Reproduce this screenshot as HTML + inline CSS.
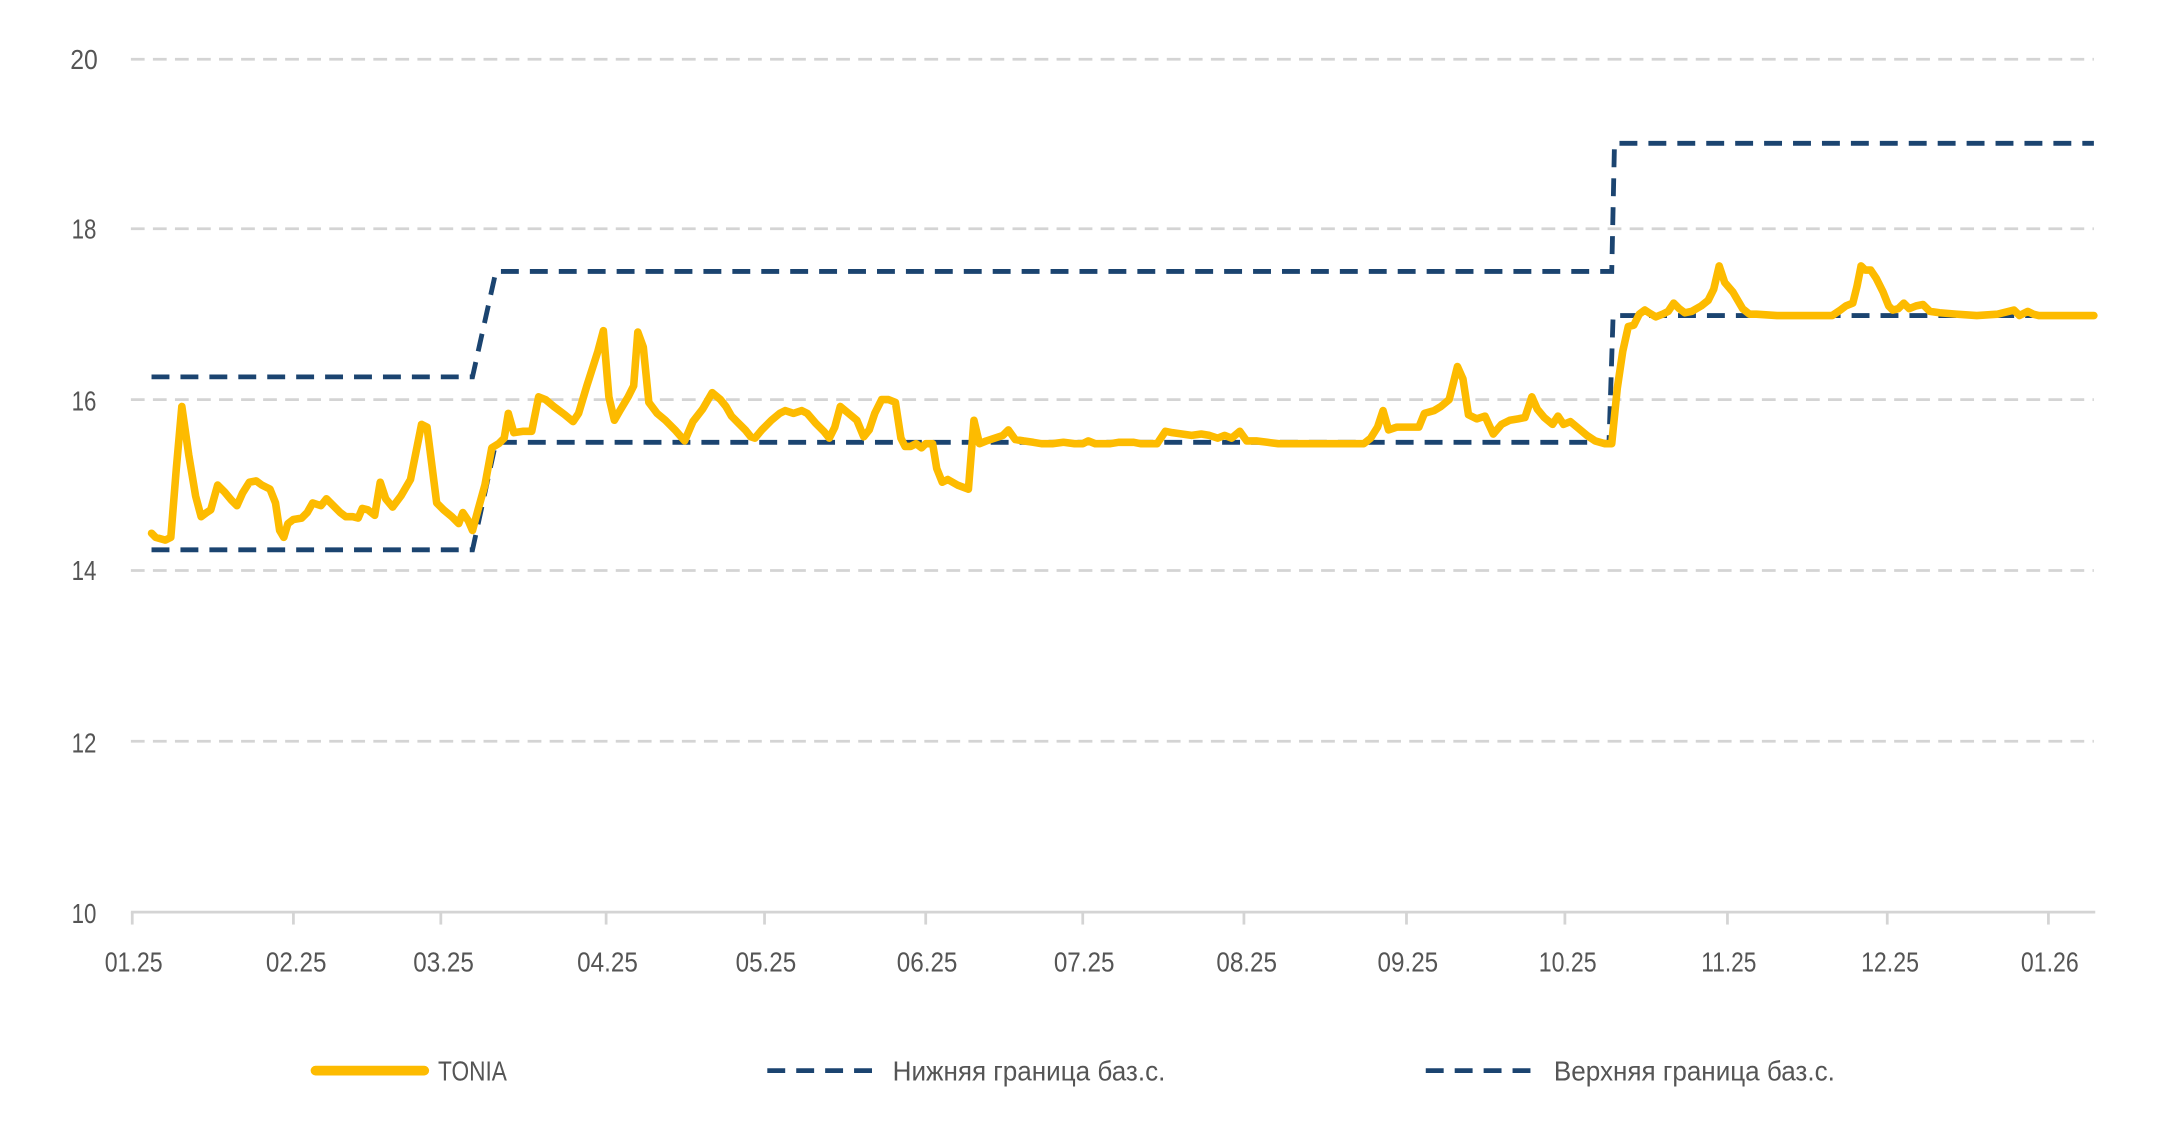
<!DOCTYPE html>
<html><head><meta charset="utf-8"><style>html,body{margin:0;padding:0;background:#fff;}svg{display:block}</style></head>
<body>
<svg width="2160" height="1134" viewBox="0 0 1568 823" xmlns="http://www.w3.org/2000/svg" preserveAspectRatio="none">
<g stroke="#d4d4d4" stroke-width="2" stroke-dasharray="10 6">
<line x1="95" y1="43" x2="1520" y2="43"/>
<line x1="95" y1="166" x2="1520" y2="166"/>
<line x1="95" y1="290" x2="1520" y2="290"/>
<line x1="95" y1="414" x2="1520" y2="414"/>
<line x1="95" y1="538" x2="1520" y2="538"/>
</g>
<g stroke="#d4d4d4" stroke-width="2">
<line x1="95" y1="662" x2="1521" y2="662"/>
<line x1="96" y1="662" x2="96" y2="671"/><line x1="213" y1="662" x2="213" y2="671"/><line x1="320" y1="662" x2="320" y2="671"/><line x1="440" y1="662" x2="440" y2="671"/><line x1="555" y1="662" x2="555" y2="671"/><line x1="672" y1="662" x2="672" y2="671"/><line x1="786" y1="662" x2="786" y2="671"/><line x1="903" y1="662" x2="903" y2="671"/><line x1="1021" y1="662" x2="1021" y2="671"/><line x1="1136" y1="662" x2="1136" y2="671"/><line x1="1254" y1="662" x2="1254" y2="671"/><line x1="1370" y1="662" x2="1370" y2="671"/><line x1="1487" y1="662" x2="1487" y2="671"/>
</g>
<g font-family="Liberation Sans, sans-serif" font-size="20" fill="#555" text-anchor="middle">
<text x="61" y="50" textLength="20" lengthAdjust="spacingAndGlyphs">20</text>
<text x="61" y="173" textLength="18" lengthAdjust="spacingAndGlyphs">18</text>
<text x="61" y="298" textLength="18" lengthAdjust="spacingAndGlyphs">16</text>
<text x="61" y="421" textLength="18" lengthAdjust="spacingAndGlyphs">14</text>
<text x="61" y="546" textLength="18" lengthAdjust="spacingAndGlyphs">12</text>
<text x="61" y="670" textLength="18" lengthAdjust="spacingAndGlyphs">10</text>
<text x="97" y="705" textLength="42" lengthAdjust="spacingAndGlyphs">01.25</text>
<text x="215" y="705" textLength="44" lengthAdjust="spacingAndGlyphs">02.25</text>
<text x="322" y="705" textLength="44" lengthAdjust="spacingAndGlyphs">03.25</text>
<text x="441" y="705" textLength="44" lengthAdjust="spacingAndGlyphs">04.25</text>
<text x="556" y="705" textLength="44" lengthAdjust="spacingAndGlyphs">05.25</text>
<text x="673" y="705" textLength="44" lengthAdjust="spacingAndGlyphs">06.25</text>
<text x="787" y="705" textLength="44" lengthAdjust="spacingAndGlyphs">07.25</text>
<text x="905" y="705" textLength="44" lengthAdjust="spacingAndGlyphs">08.25</text>
<text x="1022" y="705" textLength="44" lengthAdjust="spacingAndGlyphs">09.25</text>
<text x="1138" y="705" textLength="42" lengthAdjust="spacingAndGlyphs">10.25</text>
<text x="1255" y="705" textLength="40" lengthAdjust="spacingAndGlyphs">11.25</text>
<text x="1372" y="705" textLength="42" lengthAdjust="spacingAndGlyphs">12.25</text>
<text x="1488" y="705" textLength="42" lengthAdjust="spacingAndGlyphs">01.26</text>
</g>
<g fill="none" stroke="#1b4470" stroke-width="3.5" stroke-dasharray="13 8">
<polyline points="110,273.5 343,273.5 360,197 1170,197 1172,104 1520,104"/>
<polyline points="110,399 343,399 360,321 1168,321 1171,229 1520,229"/>
</g>
<polyline fill="none" stroke="#fdbb00" stroke-width="5.5" stroke-linejoin="round" stroke-linecap="round" points="110,387 113,390 120,392 124,390 128,340 132,295 137,330 142,360 146,375 150,372 153,370 158,352 163,357 168,363 172,367 176,358 181,350 186,349 190,352 196,355 200,365 203,385 206,390 209,380 213,377 219,376 223,372 227,365 233,367 237,362 241,366 247,372 251,375 256,375 260,376 263,369 267,370 272,374 276,350 280,362 285,368 291,360 298,348 302,328 306,308 310,310 317,365 322,370 328,375 333,380 336,372 340,378 343,385 347,370 352,352 357,325 362,322 366,318 369,300 373,314 380,313 386,313 391,288 396,290 402,295 410,301 416,306 420,300 426,280 434,255 438,240 442,288 446,305 450,298 456,288 460,280 463,241 467,252 471,292 477,300 483,305 490,312 497,320 503,306 510,297 517,285 523,290 527,295 531,302 537,308 541,312 545,317 548,318 553,312 560,305 566,300 570,298 576,300 582,298 586,300 592,307 598,313 602,318 606,310 610,295 616,300 622,305 627,317 631,312 635,300 640,290 645,290 650,292 654,318 657,324 661,324 665,322 669,325 672,322 677,322 680,340 684,350 688,348 695,352 703,355 707,305 711,322 716,320 722,318 728,316 732,312 737,319 743,320 750,321 756,322 764,322 772,321 780,322 786,322 790,320 795,322 800,322 806,322 812,321 818,321 823,321 828,322 833,322 840,322 846,313 851,314 858,315 865,316 872,315 878,316 884,318 889,316 894,318 900,313 905,320 912,320 920,321 928,322 940,322 960,322 980,322 990,322 995,318 1000,310 1004,298 1008,312 1014,310 1022,310 1030,310 1034,300 1041,298 1046,295 1052,290 1055,278 1058,266 1062,275 1066,301 1072,304 1078,302 1084,315 1090,308 1096,305 1102,304 1107,303 1112,288 1116,297 1121,303 1127,308 1131,302 1135,308 1140,306 1146,311 1152,316 1158,320 1165,322 1170,322 1174,282 1178,255 1182,237 1186,236 1190,228 1194,225 1197,227 1202,230 1207,228 1211,226 1215,220 1219,224 1223,227 1228,226 1235,222 1240,218 1244,210 1248,193 1252,205 1258,212 1265,224 1270,228 1275,228 1290,229 1320,229 1330,229 1336,225 1340,222 1345,220 1348,208 1351,193 1354,196 1358,196 1362,202 1367,212 1371,222 1374,225 1378,224 1382,220 1386,224 1391,222 1396,221 1401,226 1408,227 1420,228 1435,229 1450,228 1458,226 1462,225 1466,229 1472,226 1476,228 1480,229 1500,229 1520,229"/>
<line x1="229" y1="777" x2="308" y2="777" stroke="#fdbb00" stroke-width="7" stroke-linecap="round"/>
<line x1="557" y1="777" x2="640" y2="777" stroke="#1b4470" stroke-width="3.5" stroke-dasharray="13 8"/>
<line x1="1035" y1="777" x2="1118" y2="777" stroke="#1b4470" stroke-width="3.5" stroke-dasharray="13 8"/>
<g font-family="Liberation Sans, sans-serif" font-size="20" fill="#555">
<text x="318" y="784" textLength="50" lengthAdjust="spacingAndGlyphs">TONIA</text>
<text x="648" y="784" textLength="198" lengthAdjust="spacingAndGlyphs">Нижняя граница баз.с.</text>
<text x="1128" y="784" textLength="204" lengthAdjust="spacingAndGlyphs">Верхняя граница баз.с.</text>
</g>
</svg>
</body></html>
